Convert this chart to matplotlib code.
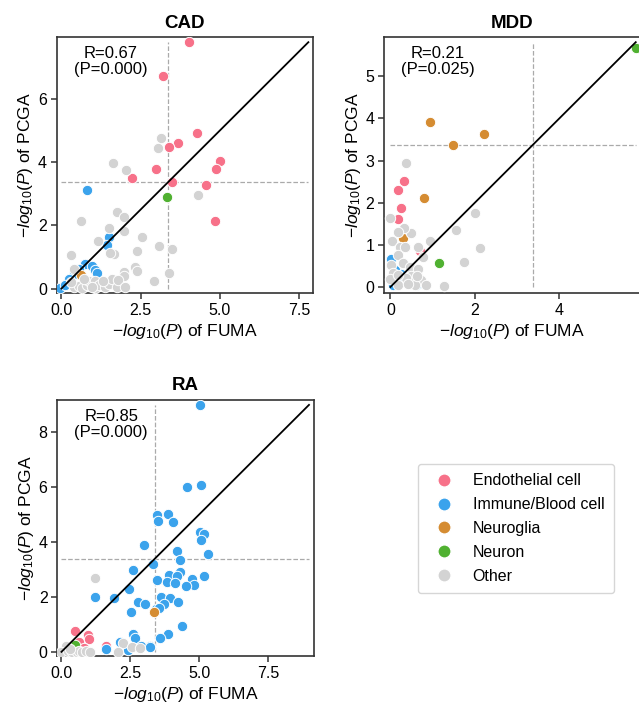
import matplotlib
matplotlib.use("Agg")
from matplotlib import pyplot as plt
from matplotlib.ticker import MultipleLocator
from matplotlib.lines import Line2D

plt.rcParams['font.family'] = ['Liberation Sans', 'DejaVu Sans']
plt.rcParams['mathtext.fontset'] = 'custom'
plt.rcParams['mathtext.rm'] = 'Liberation Sans'
plt.rcParams['mathtext.it'] = 'Liberation Sans:italic'

# cell type codes -> names, in plotting order
type_names = ['Endothelial cell', 'Immune/Blood cell', 'Neuroglia', 'Neuron', 'Other']
type_codes = ['E', 'I', 'G', 'N', 'O']
type_colors = ['#f77189', '#3ba3ec', '#d58c32', '#50b131', '#d3d3d3']

threshold = 3.38  # -log10(0.05/120)

# ---------------- CAD ----------------
cad_E_x = [4.03, 3.20, 4.29, 3.69, 3.40, 2.99, 2.22, 3.50, 4.56, 5.00, 4.87, 4.85]
cad_E_y = [7.80, 6.72, 4.93, 4.60, 4.49, 3.80, 3.51, 3.37, 3.29, 4.03, 3.80, 2.15]
cad_I_x = [0.81, 1.49, 1.44, 0.75, 0.95, 1.07, 1.12, 0.55, 0.40, 0.23, -0.03, 0.10]
cad_I_y = [3.13, 1.63, 1.39, 0.78, 0.70, 0.58, 0.48, 0.62, 0.45, 0.31, 0.02, 0.10]
cad_G_x = [0.63]
cad_G_y = [0.42]
cad_N_x = [3.33]
cad_N_y = [2.89]
cad_O_x = [3.15, 3.05, 1.64, 2.04, 4.31, 0.63, 1.77, 1.98, 1.49, 1.99, 2.53, 1.14, 3.07,
           3.48, 2.38, 1.65, 1.52, 0.31, 2.33, 2.38, 1.98, 1.98, 3.41, 2.92, 0.41,
           0.39, 0.55, 0.65, 0.80, 0.86, 1.05, 1.07, 1.20, 1.38, 1.49, 1.60, 1.75,
           1.80, 2.01, 0.30, 0.70, 1.30, 0.95]
cad_O_y = [4.77, 4.46, 3.97, 3.74, 2.97, 2.15, 2.42, 2.28, 1.93, 1.83, 1.64, 1.52, 1.35,
           1.25, 1.20, 1.09, 1.12, 1.05, 0.67, 0.55, 0.53, 0.40, 0.50, 0.23, 0.62,
           0.05, 0.08, 0.02, 0.10, 0.23, 0.23, 0.02, 0.10, 0.05, 0.13, 0.30, 0.05,
           0.28, 0.05, 0.20, 0.30, 0.25, 0.05]

# ---------------- MDD ----------------
mdd_E_x = [0.32, 0.18, 0.24, 0.17, 0.71, 0.35]
mdd_E_y = [2.51, 2.30, 1.87, 1.62, 0.86, 0.95]
mdd_I_x = [0.02, 0.06, 0.26, 0.73, 0.10, 0.40, 0.60, 0.15]
mdd_I_y = [0.67, 0.04, 0.30, 0.10, 0.40, 0.15, 0.05, 0.20]
mdd_G_x = [0.95, 2.21, 1.49, 0.80, 0.31]
mdd_G_y = [3.91, 3.62, 3.37, 2.11, 1.17]
mdd_N_x = [5.81, 1.14]
mdd_N_y = [5.66, 0.57]
mdd_O_x = [0.38, 0.00, 2.00, 1.56, 2.12, 1.75, 0.93, 0.78, 0.65, 1.27, 0.48, 0.32, 0.18,
           0.04, 0.23, 0.18, 0.35, 0.02, 0.06, 0.00, 0.30, 0.46, 0.65, 0.50, 0.73,
           0.18, 0.58, 0.38, 0.18, 0.42, 0.85, 0.62]
mdd_O_y = [2.94, 1.64, 1.76, 1.35, 0.93, 0.59, 1.10, 0.72, 0.96, 0.03, 1.27, 1.41, 1.30,
           1.09, 0.94, 0.77, 0.94, 0.52, 0.34, 0.19, 0.58, 0.47, 0.43, 0.25, 0.16,
           0.04, 0.04, 0.22, 0.28, 0.08, 0.05, 0.25]

# ---------------- RA ----------------
ra_E_x = [0.48, 0.98, 0.99, 0.62, 1.63, 0.80, 0.45]
ra_E_y = [0.76, 0.63, 0.48, 0.37, 0.21, 0.15, 0.10]
ra_I_x = [5.03, 4.54, 5.08, 3.47, 3.49, 3.86, 4.06, 5.03, 5.18, 5.08, 5.30, 3.00, 4.18,
          4.30, 3.31, 2.59, 4.30, 3.91, 4.19, 3.47, 3.83, 4.13, 4.72, 4.81, 4.52,
          5.17, 2.46, 1.23, 1.92, 3.61, 3.94, 3.72, 4.23, 2.79, 3.03, 2.54, 3.42,
          3.55, 4.36, 3.86, 3.58, 2.60, 2.66, 3.20, 2.90, 2.43, 1.63, 2.13, 3.22]
ra_I_y = [8.98, 6.01, 6.06, 4.97, 4.75, 5.02, 4.73, 4.36, 4.27, 4.07, 3.55, 3.87, 3.65,
          3.35, 3.20, 2.96, 2.91, 2.80, 2.77, 2.62, 2.55, 2.49, 2.65, 2.44, 2.39,
          2.77, 2.30, 1.98, 1.95, 1.99, 1.97, 1.73, 1.80, 1.80, 1.73, 1.44, 1.55,
          1.58, 0.93, 0.64, 0.52, 0.64, 0.50, 0.22, 0.22, 0.05, 0.10, 0.37, 0.19]
ra_G_x = [3.36]
ra_G_y = [1.44]
ra_N_x = [0.48]
ra_N_y = [0.26]
ra_O_x = [1.20, 2.24, 2.04, 2.56, 2.84, 0.15, 0.00, 0.25, 0.40, 0.55, 0.65, 0.75, 0.90,
          1.05, 0.30]
ra_O_y = [2.67, 0.31, 0.00, 0.19, 0.13, 0.21, 0.00, 0.02, 0.00, 0.00, 0.02, 0.00, 0.02,
          0.00, 0.10]

titles = ['CAD', 'MDD', 'RA']
r_text = ['R=0.67\n(P=0.000)', 'R=0.21\n(P=0.025)', 'R=0.85\n(P=0.000)']

panels = [
    {'E': (cad_E_x, cad_E_y), 'I': (cad_I_x, cad_I_y), 'G': (cad_G_x, cad_G_y),
     'N': (cad_N_x, cad_N_y), 'O': (cad_O_x, cad_O_y)},
    {'E': (mdd_E_x, mdd_E_y), 'I': (mdd_I_x, mdd_I_y), 'G': (mdd_G_x, mdd_G_y),
     'N': (mdd_N_x, mdd_N_y), 'O': (mdd_O_x, mdd_O_y)},
    {'E': (ra_E_x, ra_E_y), 'I': (ra_I_x, ra_I_y), 'G': (ra_G_x, ra_G_y),
     'N': (ra_N_x, ra_N_y), 'O': (ra_O_x, ra_O_y)},
]

fig = plt.figure(figsize=(6.39, 7.1), dpi=100)
axes_pos = [[0.0887, 0.5869, 0.4016, 0.3606],
            [0.6010, 0.5869, 0.4016, 0.3606],
            [0.0897, 0.0761, 0.4016, 0.3606]]
xsteps = [2.5, 2, 2.5]
ysteps = [2, 1, 2]

for i in range(3):
    ax = fig.add_axes(axes_pos[i])
    data = panels[i]
    allv = []
    for code in type_codes:
        allv += list(data[code][0]) + list(data[code][1])
    mx = max(allv)
    for code, col in zip(type_codes, type_colors):
        xs, ys = data[code]
        ax.scatter(xs, ys, s=56, color=col, edgecolor='white', linewidth=0.7, zorder=3)
    ax.plot([0, mx], [0, mx], color='black', lw=1.3, zorder=4)
    ax.plot([threshold, threshold], [0, mx], color='#aaaaaa', ls='--', lw=0.9, zorder=2)
    ax.plot([0, mx], [threshold, threshold], color='#aaaaaa', ls='--', lw=0.9, zorder=2)
    ax.set_xlim(-0.15, mx * 1.02)
    ax.set_ylim(-0.15, mx * 1.02)
    ax.xaxis.set_major_locator(MultipleLocator(xsteps[i]))
    ax.yaxis.set_major_locator(MultipleLocator(ysteps[i]))
    ax.tick_params(labelsize=11.5, length=4, width=1.1, color='#333333', pad=3)
    for sp in ax.spines.values():
        sp.set_linewidth(1.2)
        sp.set_color('#333333')
    ax.set_title(titles[i], fontsize=13.5, fontweight='bold', pad=7)
    ax.set_ylabel(r'$-log_{10}(P)$ of PCGA', fontsize=12.5, labelpad=2)
    ax.set_xlabel(r'$-log_{10}(P)$ of FUMA', fontsize=12.5, labelpad=3)
    ax.text(0.21, 0.965, r_text[i], transform=ax.transAxes, ha='center', va='top',
            fontsize=12, linespacing=1.1, zorder=5)

handles = [Line2D([], [], marker='o', ls='', markersize=9.5, markerfacecolor=c,
                  markeredgecolor='white') for c in type_colors]
fig.legend(handles, type_names, loc='center', bbox_to_anchor=(0.8075, 0.2556),
           fontsize=11.5, frameon=True, handletextpad=0.8, labelspacing=0.55,
           borderpad=0.6)

fig.savefig('out.png', dpi=100)
